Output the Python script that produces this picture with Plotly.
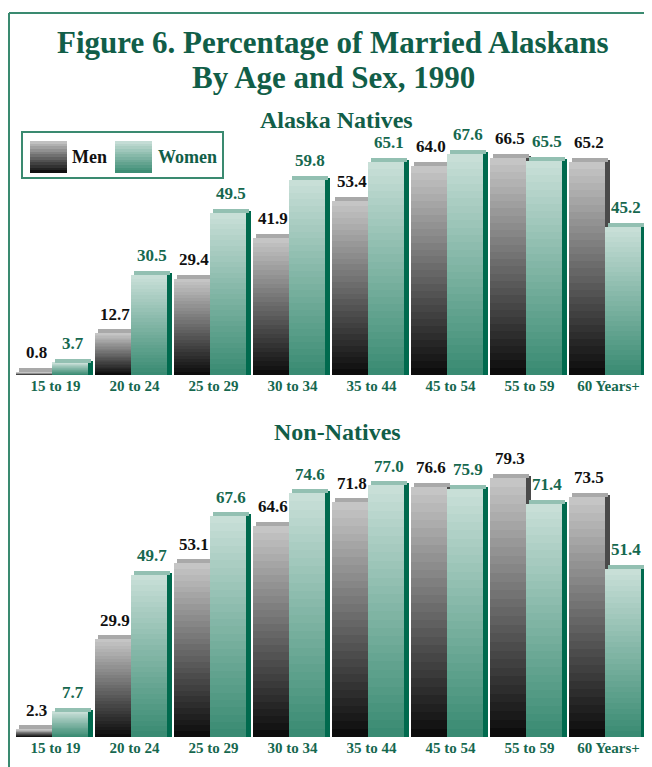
import plotly.graph_objects as go

# ---------------- data ----------------
age_groups = ["15 to 19", "20 to 24", "25 to 29", "30 to 34",
              "35 to 44", "45 to 54", "55 to 59", "60 Years+"]
native_men = [0.8, 12.7, 29.4, 41.9, 53.4, 64.0, 66.5, 65.2]
native_women = [3.7, 30.5, 49.5, 59.8, 65.1, 67.6, 65.5, 45.2]
nonnative_men = [2.3, 29.9, 53.1, 64.6, 71.8, 76.6, 79.3, 73.5]
nonnative_women = [7.7, 49.7, 67.6, 74.6, 77.0, 75.9, 71.4, 51.4]

# ---------------- styling ----------------
PAGE_OFF = 8            # default body margin of the html page
W, H = 652 - PAGE_OFF, 767 - PAGE_OFF
FONT = "Liberation Serif"
GREEN = "#115e48"
LABEL_GREEN = "#16684f"
FRAME = "#3a8a70"
N_SEG = 30


def px(x):
    return (x - PAGE_OFF) / W


def py(y):
    return 1 - (y - PAGE_OFF) / H


def lerp(c0, c1, t):
    return "rgb(%d,%d,%d)" % tuple(round(a + (b - a) * t) for a, b in zip(c0, c1))


MEN_BOTTOM, MEN_TOP = (10, 10, 10), (200, 200, 200)
WOMEN_BOTTOM, WOMEN_TOP = (56, 138, 113), (202, 224, 217)
MEN_SIDE, WOMEN_SIDE = "#4a4a4a", "#006a4e"
MEN_CAP, WOMEN_CAP = "#a9a9a9", "#93c0b2"

PITCH = 79.0
BAR_W = 36 / PITCH
SIDE_W = 5 / PITCH
CAP_SHIFT = 2.5 / PITCH
SCALE = 3.265  # px per percentage point
CAP_H = 4 / SCALE

fig = go.Figure()


def add_series(values, xa, ya, offset, bottom, top, side, cap):
    # side face
    fig.add_trace(go.Bar(x=age_groups, y=[v + CAP_H * 0.5 for v in values],
                         base=0, offset=offset + BAR_W, width=SIDE_W,
                         marker=dict(color=side, line=dict(width=0)),
                         xaxis=xa, yaxis=ya, showlegend=False, hoverinfo="skip"))
    # gradient body: each layer runs from its own base up to the bar top
    for k in range(N_SEG):
        t = (k + 0.5) / N_SEG
        fig.add_trace(go.Bar(x=age_groups, y=[v * (N_SEG - k) / N_SEG for v in values],
                             base=[v * k / N_SEG for v in values],
                             offset=offset, width=BAR_W,
                             marker=dict(color=lerp(bottom, top, t), line=dict(width=0)),
                             xaxis=xa, yaxis=ya, showlegend=False, hoverinfo="skip"))
    # top face
    fig.add_trace(go.Bar(x=age_groups, y=[CAP_H] * len(values), base=values,
                         offset=offset + CAP_SHIFT, width=BAR_W,
                         marker=dict(color=cap, line=dict(width=0)),
                         xaxis=xa, yaxis=ya, showlegend=False, hoverinfo="skip"))


def add_labels(values, xref, yref, center, color):
    for i, v in enumerate(values):
        fig.add_annotation(x=i + center, y=v, xref=xref, yref=yref,
                           text="%.1f" % v, showarrow=False,
                           xanchor="center", yanchor="bottom", yshift=8,
                           font=dict(family=FONT, size=17, color=color, weight="bold"))


MEN_OFF = -0.5
WOMEN_OFF = -0.5 + BAR_W

for men, women, xa, ya in [(native_men, native_women, "x", "y"),
                           (nonnative_men, nonnative_women, "x2", "y2")]:
    add_series(men, xa, ya, MEN_OFF, MEN_BOTTOM, MEN_TOP, MEN_SIDE, MEN_CAP)
    add_series(women, xa, ya, WOMEN_OFF, WOMEN_BOTTOM, WOMEN_TOP, WOMEN_SIDE, WOMEN_CAP)
    add_labels(men, xa, ya, MEN_OFF + BAR_W / 2 + 2 / PITCH, "#111111")
    add_labels(women, xa, ya, WOMEN_OFF + BAR_W / 2 + 2.5 / PITCH, LABEL_GREEN)

# legend swatches (decoration in their own small axes)
for cx, bottom, top in [(18.5, MEN_BOTTOM, MEN_TOP), (103.5, WOMEN_BOTTOM, WOMEN_TOP)]:
    for k in range(12):
        t = (k + 0.5) / 12
        fig.add_trace(go.Bar(x=[cx], y=[(12 - k) / 12], base=[k / 12], width=37,
                             marker=dict(color=lerp(bottom, top, t), line=dict(width=0)),
                             xaxis="x3", yaxis="y3", showlegend=False, hoverinfo="skip"))

axis_common = dict(showgrid=False, zeroline=False, showline=False, ticks="")
tick_font = dict(family=FONT, size=15, color=LABEL_GREEN, weight="bold")
fig.update_layout(
    width=W, height=H,
    margin=dict(l=0, r=0, t=0, b=0),
    paper_bgcolor="white", plot_bgcolor="rgba(0,0,0,0)",
    barmode="overlay", bargap=0,
    showlegend=False,
    xaxis=dict(domain=[px(16), px(648)], range=[-0.5, 7.5], anchor="y",
               tickfont=tick_font, **axis_common),
    yaxis=dict(domain=[py(375), py(375 - 75 * SCALE)], range=[0, 75],
               showticklabels=False, anchor="x", **axis_common),
    xaxis2=dict(domain=[px(16), px(648)], range=[-0.5, 7.5], anchor="y2",
                tickfont=tick_font, **axis_common),
    yaxis2=dict(domain=[py(737.3), py(737.3 - 90 * SCALE)], range=[0, 90],
                showticklabels=False, anchor="x2", **axis_common),
    xaxis3=dict(domain=[px(30), px(152)], range=[0, 122], visible=False, anchor="y3",
                **axis_common),
    yaxis3=dict(domain=[py(173), py(141)], range=[0, 1], visible=False, anchor="x3",
                **axis_common),
)

# frame (top and left edges; the rest runs off the page)
fig.add_shape(type="line", xref="paper", yref="paper",
              x0=px(9), x1=1.0, y0=py(13), y1=py(13),
              line=dict(color=FRAME, width=2), layer="below")
fig.add_shape(type="line", xref="paper", yref="paper",
              x0=px(9), x1=px(9), y0=py(13), y1=0.0,
              line=dict(color=FRAME, width=2), layer="below")
# legend box
fig.add_shape(type="rect", xref="paper", yref="paper",
              x0=px(22), x1=px(223), y0=py(178), y1=py(132),
              line=dict(color=FRAME, width=2), fillcolor="white", layer="below")

# titles
fig.add_annotation(text="Figure 6. Percentage of Married Alaskans", x=px(333), y=py(43),
                   xref="paper", yref="paper", showarrow=False, xanchor="center", yanchor="middle",
                   font=dict(family=FONT, size=31, color=GREEN, weight="bold"))
fig.add_annotation(text="By Age and Sex, 1990", x=px(333), y=py(78),
                   xref="paper", yref="paper", showarrow=False, xanchor="center", yanchor="middle",
                   font=dict(family=FONT, size=31, color=GREEN, weight="bold"))
fig.add_annotation(text="Alaska Natives", x=px(336), y=py(120),
                   xref="paper", yref="paper", showarrow=False, xanchor="center", yanchor="middle",
                   font=dict(family=FONT, size=24, color=GREEN, weight="bold"))
fig.add_annotation(text="Non-Natives", x=px(337), y=py(432),
                   xref="paper", yref="paper", showarrow=False, xanchor="center", yanchor="middle",
                   font=dict(family=FONT, size=24, color=GREEN, weight="bold"))
# legend texts
fig.add_annotation(text="Men", x=px(70), y=py(157), xref="paper", yref="paper",
                   showarrow=False, xanchor="left", yanchor="middle",
                   font=dict(family=FONT, size=18, color="#111111", weight="bold"))
fig.add_annotation(text="Women", x=px(156), y=py(157), xref="paper", yref="paper",
                   showarrow=False, xanchor="left", yanchor="middle",
                   font=dict(family=FONT, size=18, color=GREEN, weight="bold"))

fig.write_html("out.html")
